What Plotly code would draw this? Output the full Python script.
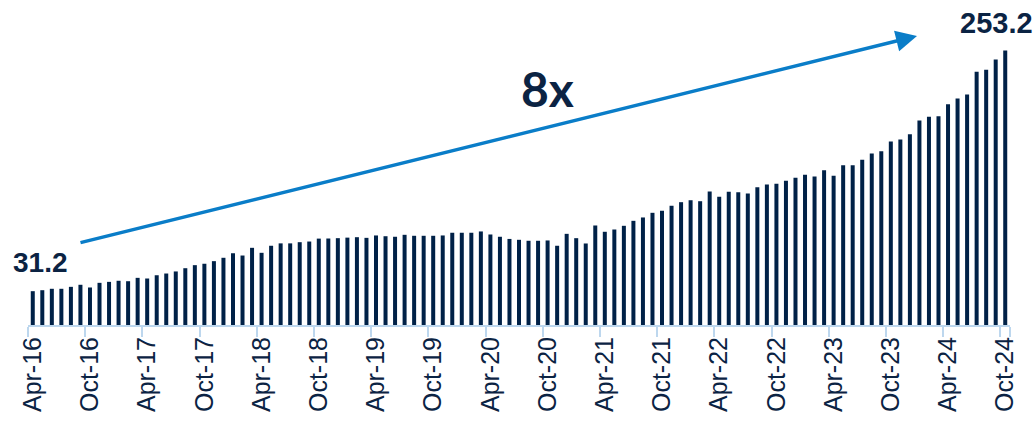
import plotly.graph_objects as go

# ---- data ----
month_names = ["Jan", "Feb", "Mar", "Apr", "May", "Jun",
               "Jul", "Aug", "Sep", "Oct", "Nov", "Dec"]
months = []
y, m = 2016, 3
while (y, m) <= (2024, 9):
    months.append(f"{month_names[m]}-{str(y)[2:]}")
    m += 1
    if m == 12:
        m = 0
        y += 1

values = [
    31.2, 32.1, 33.4, 33.4, 35.2, 37.1, 34.6, 38.9, 39.8, 40.8,
    40.4, 43.5, 42.9, 45.9, 47.5, 49.4, 52.4, 55.2, 56.5, 58.9,
    62.0, 66.2, 64.1, 71.2, 66.6, 73.1, 75.3, 75.3, 76.4, 77.0,
    79.7, 79.8, 80.1, 80.6, 81.0, 80.4, 82.6, 81.9, 81.4, 83.2,
    82.3, 82.3, 82.3, 82.6, 85.1, 85.1, 85.1, 86.3, 83.5, 81.4,
    79.4, 78.6, 77.7, 77.7, 78.0, 73.1, 84.1, 80.1, 75.2, 91.8,
    86.0, 88.1, 91.5, 96.1, 99.2, 103.5, 105.4, 110.0, 113.3, 115.1,
    114.2, 123.2, 118.3, 122.9, 122.5, 121.3, 127.1, 129.6, 130.2, 133.0,
    135.8, 138.5, 137.0, 142.8, 137.6, 147.4, 147.4, 152.4, 158.2, 160.3,
    169.3, 171.1, 176.0, 188.7, 192.1, 192.6, 203.7, 208.9, 212.6, 233.6,
    235.4, 244.9, 253.2,
]

tick_labels = ["Apr-16", "Oct-16", "Apr-17", "Oct-17", "Apr-18", "Oct-18",
               "Apr-19", "Oct-19", "Apr-20", "Oct-20", "Apr-21", "Oct-21",
               "Apr-22", "Oct-22", "Apr-23", "Oct-23", "Apr-24", "Oct-24"]
growth_label = "8x"

# ---- style ----
NAVY = "#002147"
TEXT = "#0B2343"
BLUE = "#0A7DC8"
AXIS = "#BDD7EE"

W, H = 1033, 425
ML, MR, MT, MB = 28, 23, 10, 100
PW, PH = W - ML - MR, H - MT - MB


def px_x(x):
    return (x - ML) / PW


def px_y(y):
    return (H - MB - y) / PH


fig = go.Figure()
fig.add_trace(go.Bar(x=months, y=values, marker=dict(color=NAVY, line=dict(width=0)),
                     hoverinfo="x+y"))

fig.update_layout(
    width=W, height=H,
    margin=dict(l=ML, r=MR, t=MT, b=MB, pad=0, autoexpand=False),
    paper_bgcolor="white", plot_bgcolor="white",
    bargap=0.58,
    showlegend=False,
    xaxis=dict(
        type="category",
        automargin=False,
        range=[-0.5, len(months) - 0.5],
        tickmode="array",
        tickvals=tick_labels,
        ticktext=tick_labels,
        tickson="boundaries",
        ticks="outside", ticklen=10, tickwidth=2, tickcolor=AXIS,
        showline=True, linecolor=AXIS, linewidth=2,
        showgrid=False, zeroline=False,
        tickangle=-90,
        tickfont=dict(family="Liberation Sans, Arial, sans-serif", size=25, color=TEXT),
    ),
    yaxis=dict(
        automargin=False,
        range=[0, PH / 1.084],
        visible=False, showgrid=False, zeroline=False,
    ),
    annotations=[
        dict(x=months[0], y=values[0], xref="x", yref="y",
             text=f"<b>{values[0]}</b>", showarrow=False,
             xanchor="center", yanchor="bottom", xshift=8, yshift=11,
             font=dict(family="Liberation Sans Narrow, Arial Narrow, sans-serif", size=28, color=TEXT)),
        dict(x=months[-1], y=values[-1], xref="x", yref="y",
             text=f"<b>{values[-1]}</b>", showarrow=False,
             xanchor="center", yanchor="bottom", xshift=-9, yshift=10,
             font=dict(family="Liberation Sans Narrow, Arial Narrow, sans-serif", size=29, color=TEXT)),
        dict(x=px_x(547.5), y=px_y(88), xref="paper", yref="paper",
             text=f"<b>{growth_label}</b>", showarrow=False,
             xanchor="center", yanchor="middle",
             font=dict(family="Lato", size=48, weight=900, color=TEXT)),
        dict(x=px_x(917), y=px_y(36), xref="paper", yref="paper",
             ax=79 - 917, ay=243 - 36, axref="pixel", ayref="pixel",
             text="", showarrow=True, arrowhead=2, arrowsize=1.2,
             arrowwidth=3.5, arrowcolor=BLUE, standoff=0, startstandoff=0),
    ],
)

fig.write_html("out.html", config={"displayModeBar": False},
               post_script="document.body.style.margin='0px';")
